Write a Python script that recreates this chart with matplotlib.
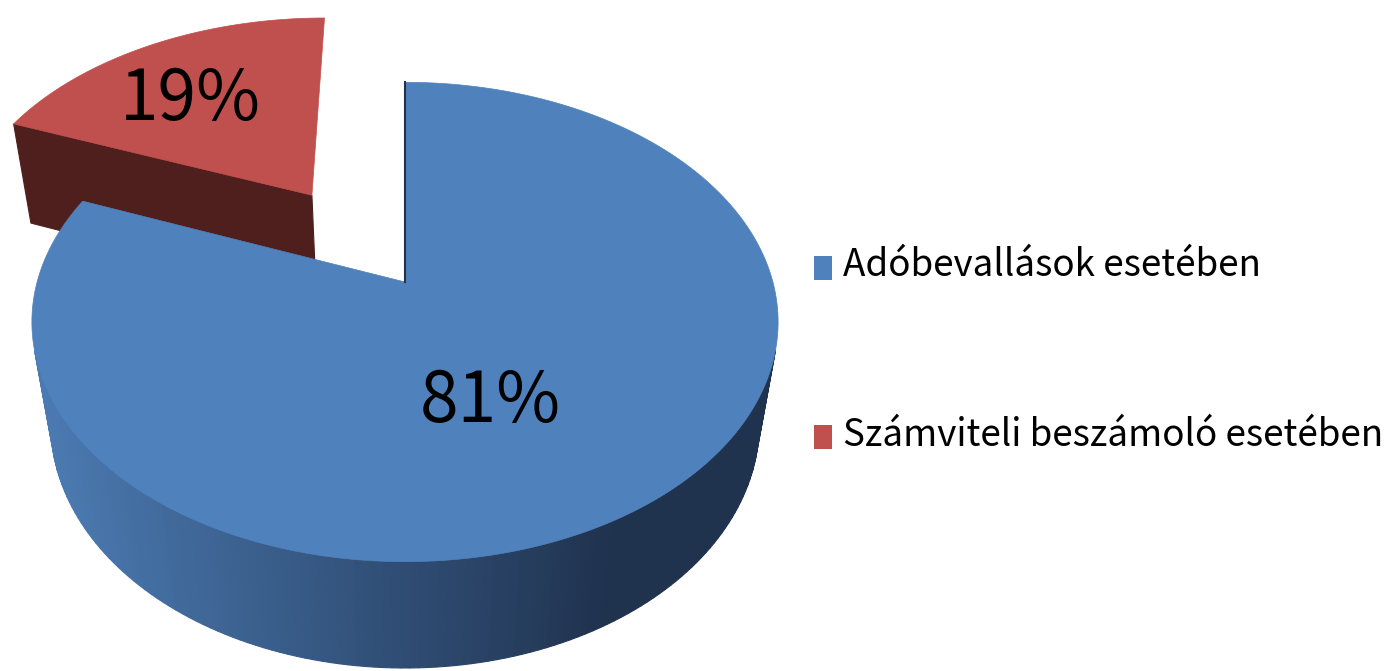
import numpy as np
import matplotlib.pyplot as plt
from matplotlib.patches import Polygon, Rectangle
from matplotlib.colors import to_rgb

plt.rcParams['font.family'] = ['Noto Sans CJK JP', 'DejaVu Sans']

labels = ['Adóbevallások esetében', 'Számviteli beszámoló esetében']
values = [81, 19]
top_colors = ['#4f81bd', '#c0504d']
side_light = ['#4b7ab2', '#4f1f1e']
side_dark = ['#1f324e', '#4f1f1e']
explode = [0.0, 0.48]

# camera / projection, tuned by eye
f = 1707.0
D = 4.64
phi = np.radians(39.3)
c, s = np.cos(phi), np.sin(phi)
h = 0.382
cx, cy = 405.0, 282.0
cam = np.array([0.0, -D * c, D * s])


def proj(X, Y, Z):
    z = D + Y * c - Z * s
    return cx + f * X / z, cy - f * (Z * c + Y * s) / z


def facing(n, p):
    return np.dot(n, cam - np.asarray(p))


def shade(i, sx):
    t = np.clip((sx - 40) / (620 - 40), 0, 1)
    a = np.array(to_rgb(side_light[i]))
    b = np.array(to_rgb(side_dark[i]))
    return a * (1 - t) + b * t


fig = plt.figure(figsize=(13.91, 6.71), dpi=100)
ax = fig.add_axes([0, 0, 1, 1])
ax.set_xlim(0, 1391)
ax.set_ylim(671, 0)
ax.axis('off')

total = float(sum(values))
start = 90.0
spans = []
for v in values:
    sweep = 360.0 * v / total
    spans.append((start - sweep, start))  # clockwise from 12 o'clock
    start -= sweep

# draw far slices first
mids = [np.radians((a + b) / 2) for a, b in spans]
order = sorted(range(len(values)), key=lambda i: -(explode[i] * np.sin(mids[i])))

label_r = [0.52, 0.64]
label_shift = [-9.8, 4.6]

for i in order:
    t1, t2 = np.radians(spans[i][0]), np.radians(spans[i][1])
    ox = explode[i] * np.cos(mids[i])
    oy = explode[i] * np.sin(mids[i])
    th = np.linspace(t1, t2, 240)

    # radial cut faces (only the ones turned towards the front)
    for ang, nang in ((t1, t1 - np.pi / 2), (t2, t2 + np.pi / 2)):
        n = np.array([np.cos(nang), np.sin(nang), 0])
        p = [ox + 0.5 * np.cos(ang), oy + 0.5 * np.sin(ang), -h / 2]
        ex, ey = ox + np.cos(ang), oy + np.sin(ang)
        pts = [proj(ox, oy, 0), proj(ex, ey, 0), proj(ex, ey, -h), proj(ox, oy, -h)]
        if facing(n, p) > 0 and np.sin(nang) < -0.05:
            ax.add_patch(Polygon(pts, closed=True, fc=side_dark[i], ec=side_dark[i], lw=0.8))
        elif abs(np.sin(nang)) < 0.05 and np.cos(nang) < 0:
            ax.plot([pts[0][0], pts[1][0]], [pts[0][1], pts[1][1]], color=side_dark[i], lw=1.5)

    # curved outer side
    for k in range(len(th) - 1):
        a, b = th[k], th[k + 1]
        m = (a + b) / 2
        n = np.array([np.cos(m), np.sin(m), 0])
        if facing(n, [ox + np.cos(m), oy + np.sin(m), -h / 2]) <= 0:
            continue
        pts = [proj(ox + np.cos(a), oy + np.sin(a), 0), proj(ox + np.cos(b), oy + np.sin(b), 0),
               proj(ox + np.cos(b), oy + np.sin(b), -h), proj(ox + np.cos(a), oy + np.sin(a), -h)]
        col = shade(i, (pts[0][0] + pts[1][0]) / 2)
        ax.add_patch(Polygon(pts, closed=True, fc=col, ec=col, lw=0.8))

    # top face
    top = [proj(ox, oy, 0)] + [proj(ox + np.cos(t), oy + np.sin(t), 0) for t in th]
    ax.add_patch(Polygon(top, closed=True, fc=top_colors[i], ec=top_colors[i], lw=0.5))

    la = mids[i] + np.radians(label_shift[i])
    lx, ly = proj(ox + label_r[i] * np.cos(la), oy + label_r[i] * np.sin(la), 0)
    ax.text(lx, ly, f'{values[i]}%', fontsize=50, ha='center', va='center', color='black')

# legend
leg_y = [268, 437]
for i, lab in enumerate(labels):
    ax.add_patch(Rectangle((814, leg_y[i] - 12), 18, 24, fc=top_colors[i], ec='none'))
    ax.text(843, leg_y[i] - 2, lab, fontsize=26.5, ha='left', va='center', color='black')

fig.savefig('out.png', dpi=100)
